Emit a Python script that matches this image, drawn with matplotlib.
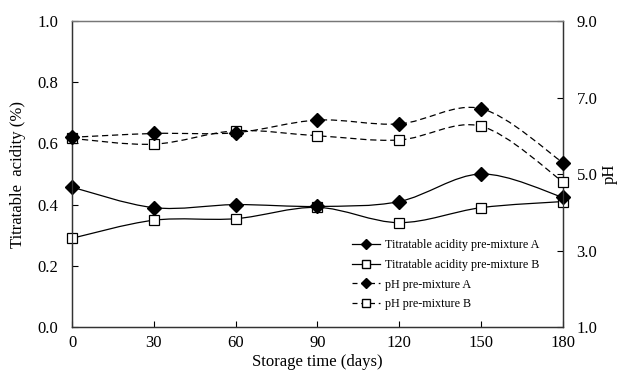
import numpy as np
import matplotlib.pyplot as plt
from matplotlib.path import Path
from matplotlib.patches import PathPatch
from matplotlib.lines import Line2D

plt.rcParams['font.family'] = ['Liberation Serif', 'DejaVu Serif']

days = [0, 30, 60, 90, 120, 150, 180]
ta_a = [0.457, 0.390, 0.400, 0.394, 0.410, 0.500, 0.424]
ta_b = [0.290, 0.349, 0.354, 0.391, 0.341, 0.390, 0.410]
ph_a = [5.96, 6.06, 6.08, 6.41, 6.31, 6.71, 5.30]
ph_b = [5.93, 5.78, 6.13, 6.00, 5.89, 6.25, 4.80]

labels = ['Titratable acidity pre-mixture A', 'Titratable acidity pre-mixture B',
          'pH pre-mixture A', 'pH pre-mixture B']


def smooth_patch(x, y, ls):
    # Excel-like smoothed line: cubic bezier through the points
    x = np.asarray(x, float)
    y = np.asarray(y, float)
    n = len(x)
    verts = [(x[0], y[0])]
    codes = [Path.MOVETO]
    for i in range(n - 1):
        i0 = max(i - 1, 0)
        i3 = min(i + 2, n - 1)
        c1 = (x[i] + (x[i + 1] - x[i0]) / 6, y[i] + (y[i + 1] - y[i0]) / 6)
        c2 = (x[i + 1] - (x[i3] - x[i]) / 6, y[i + 1] - (y[i3] - y[i]) / 6)
        verts += [c1, c2, (x[i + 1], y[i + 1])]
        codes += [Path.CURVE4] * 3
    return PathPatch(Path(verts, codes), facecolor='none', edgecolor='black',
                     lw=0.9, linestyle=ls)


fig = plt.figure(figsize=(6.22, 3.78), dpi=100)
ax = fig.add_axes([0.1158, 0.1349, 0.789, 0.8095])
ax2 = ax.twinx()

dash = (0, (5, 3))
ax.add_patch(smooth_patch(days, ta_a, '-'))
ax.add_patch(smooth_patch(days, ta_b, '-'))
ax2.add_patch(smooth_patch(days, ph_a, dash))
ax2.add_patch(smooth_patch(days, ph_b, dash))

dia = dict(marker='D', ms=7, mfc='black', mec='black', ls='none', zorder=5, clip_on=False)
sq = dict(marker='s', ms=7.5, mfc='white', mec='black', mew=0.9, ls='none', zorder=5, clip_on=False)
ax.plot(days, ta_b, **sq)
ax.plot(days, ta_a, **dia)
ax2.plot(days, ph_b, **sq)
ax2.plot(days, ph_a, **dia)

ax.set_xlim(0, 180)
ax.set_ylim(0, 1.0)
ax2.set_ylim(1, 9)
ax.set_xticks(days)
ax.set_yticks(np.arange(0, 1.01, 0.2))
ax2.set_yticks([1, 3, 5, 7, 9])
ax.yaxis.set_major_formatter(plt.FormatStrFormatter('%.1f'))
ax2.yaxis.set_major_formatter(plt.FormatStrFormatter('%.1f'))

for a in (ax, ax2):
    for s in a.spines.values():
        s.set_linewidth(0.9)
        s.set_color('#333333')
ax.spines['top'].set_color('#777777')
ax2.spines['top'].set_color('#777777')

ax.tick_params(axis='x', direction='in', length=4, pad=6, labelsize=12)
ax.tick_params(axis='y', direction='in', length=4, pad=10, labelsize=12)
ax2.tick_params(axis='y', direction='in', length=4, pad=10, labelsize=12)

ax.set_xlabel('Storage time (days)', fontsize=12, labelpad=2)
ax.set_ylabel('Titratable  acidity (%)', fontsize=12, labelpad=8)
ax2.set_ylabel('pH', fontsize=12, labelpad=3)

handles = [
    Line2D([], [], color='black', lw=0.9, marker='D', ms=5, mfc='black'),
    Line2D([], [], color='black', lw=0.9, marker='s', ms=5.5, mfc='white'),
    Line2D([], [], color='black', lw=0.9, ls=(0, (4, 3)), marker='D', ms=5, mfc='black'),
    Line2D([], [], color='black', lw=0.9, ls=(0, (4, 3)), marker='s', ms=5.5, mfc='white'),
]
ax2.legend(handles, labels, loc='upper left', bbox_to_anchor=(0.558, 0.306),
           frameon=False, fontsize=8.7, handlelength=2.3, handletextpad=0.4,
           labelspacing=0.63, borderpad=0)

fig.savefig('out.png', dpi=100)
